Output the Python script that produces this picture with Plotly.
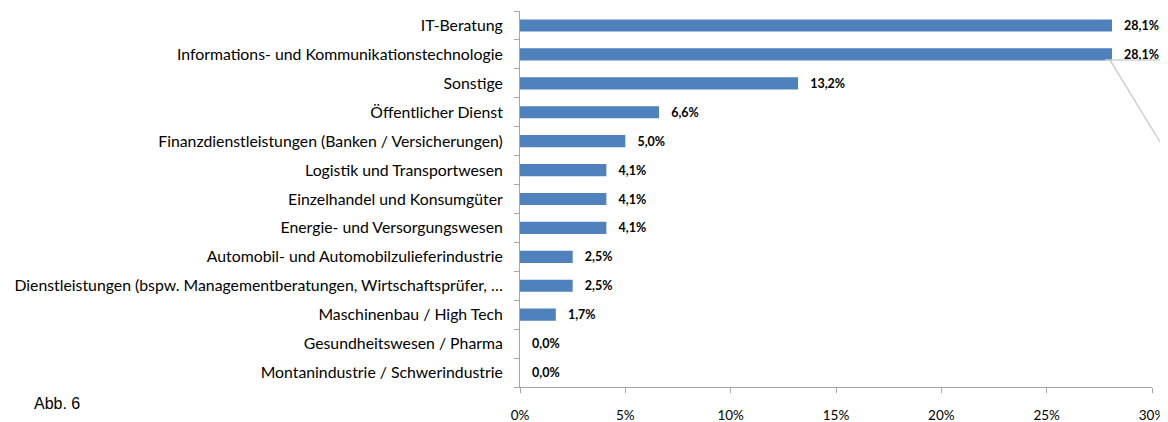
import plotly.graph_objects as go

categories = [
    "IT-Beratung",
    "Informations- und Kommunikationstechnologie",
    "Sonstige",
    "Öffentlicher Dienst",
    "Finanzdienstleistungen (Banken / Versicherungen)",
    "Logistik und Transportwesen",
    "Einzelhandel und Konsumgüter",
    "Energie- und Versorgungswesen",
    "Automobil- und Automobilzulieferindustrie",
    "Dienstleistungen (bspw. Managementberatungen, Wirtschaftsprüfer, …",
    "Maschinenbau / High Tech",
    "Gesundheitswesen / Pharma",
    "Montanindustrie / Schwerindustrie",
]
values = [28.1, 28.1, 13.2, 6.6, 5.0, 4.1, 4.1, 4.1, 2.5, 2.5, 1.7, 0.0, 0.0]
x_ticks = [0, 5, 10, 15, 20, 25, 30]
x_tick_labels = ["0%", "5%", "10%", "15%", "20%", "25%", "30%"]

labels = ["   " + f"{v:.1f}%".replace(".", ",") for v in values]

FONT = "Lato"

fig = go.Figure(
    go.Bar(
        y=categories,
        x=values,
        orientation="h",
        marker=dict(color="#4F81BD", line=dict(width=0)),
        text=labels,
        textposition="outside",
        constraintext="none",
        textfont=dict(family=FONT, size=12.5, color="#000000", weight="bold"),
        cliponaxis=False,
    )
)

# page body has an 8px margin, so the figure is 8px smaller than the window
fig.update_layout(
    width=1160,
    height=414,
    margin=dict(l=512, r=16, t=3, b=35),
    paper_bgcolor="white",
    plot_bgcolor="white",
    showlegend=False,
    bargap=0.58,
    font=dict(family=FONT, size=13, color="#000000"),
)

fig.update_yaxes(
    categoryorder="array",
    categoryarray=categories[::-1],
    showline=True,
    linecolor="#A6A6A6",
    linewidth=1,
    ticks="outside",
    ticklen=5,
    tickcolor="#A6A6A6",
    tickson="boundaries",
    showgrid=False,
    automargin=False,
    tickfont=dict(family=FONT, size=15.8, color="#000000"),
    ticklabelstandoff=13,
)

fig.update_xaxes(
    range=[0, 30],
    tickvals=x_ticks,
    ticktext=x_tick_labels,
    showline=True,
    linecolor="#A6A6A6",
    linewidth=1,
    ticks="outside",
    ticklen=5,
    tickcolor="#A6A6A6",
    showgrid=False,
    zeroline=False,
    automargin=False,
    tickfont=dict(family=FONT, size=13.5, color="#000000"),
    ticklabelstandoff=11,
)

# decorative callout line near the second label
fig.add_shape(type="line", xref="paper", yref="paper",
              x0=0.9256, y0=0.8697, x1=1.03, y1=0.8697,
              line=dict(color="#D0D0D0", width=1.5))
fig.add_shape(type="line", xref="paper", yref="paper",
              x0=0.9335, y0=0.8697, x1=1.0253, y1=0.617,
              line=dict(color="#D0D0D0", width=1.5))

fig.add_annotation(
    text="Abb. 6", xref="paper", yref="paper", x=-0.772, y=-0.045,
    xanchor="left", yanchor="middle", showarrow=False,
    font=dict(family="Liberation Sans", size=16, color="#000000"),
)

fig.write_html("out.html")
